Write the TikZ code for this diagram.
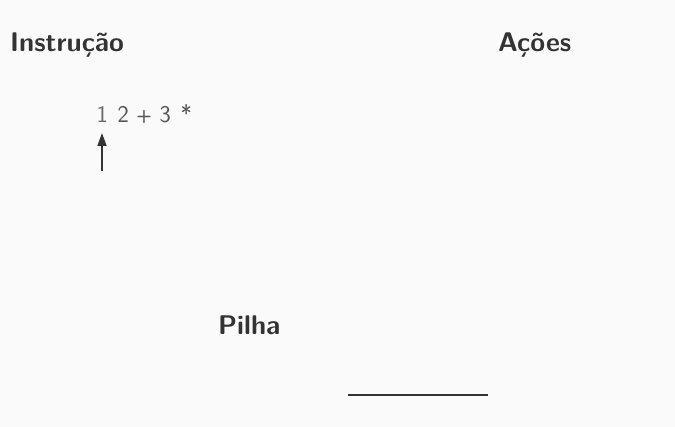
\documentclass[tikz,border=0pt]{standalone}
\usetikzlibrary{arrows.meta}
\definecolor{bg}{HTML}{FAFAFA}
\definecolor{ink}{HTML}{333333}
\definecolor{seq}{HTML}{555555}
\definecolor{cur}{HTML}{6A6A6A}
\newcommand{\seqc}[1]{\makebox[21pt][c]{#1}}
\tikzset{
  title/.style={anchor=base west, inner sep=0pt, text=ink, font=\sffamily\bfseries\fontsize{27}{32}\selectfont},
  seqtext/.style={anchor=base west, inner sep=0pt, text=seq, font=\sffamily\fontsize{24}{28}\selectfont},
  pointer/.style={draw=ink, line width=1.8pt, -{Triangle[length=13pt,width=9pt]}},
  stackbase/.style={draw=ink, line width=2.6pt}
}
\begin{document}
\begin{tikzpicture}[x=1pt,y=-1pt]
\fill[bg] (0,0) rectangle (675,427);
\useasboundingbox (0,0) rectangle (675,427);
\node[title] (instr) at (10,52) {Instrução};
\node[title] (acoes) at (498,52) {Ações};
\node[title] (pilha) at (218,335) {Pilha};
\node[seqtext] (seq) at (91.5,122.5) {\seqc{\textcolor{cur}{1}}\seqc{2}\seqc{\raisebox{1pt}{\scalebox{0.75}{\textbf{+}}}}\seqc{3}\seqc{*}};
\coordinate (ptail) at (102,171);
\coordinate (phead) at (102,133);
\draw[pointer] (ptail) -- (phead);
\coordinate (sl) at (348,395);
\coordinate (sr) at (488,395);
\draw[stackbase] (sl) -- (sr);
\end{tikzpicture}
\end{document}
